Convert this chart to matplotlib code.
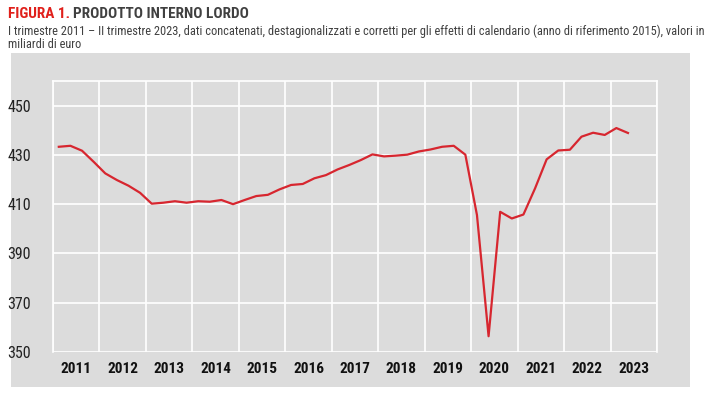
import matplotlib
matplotlib.use("Agg")
import matplotlib.pyplot as plt
from matplotlib.patches import Rectangle

plt.rcParams['font.family'] = ['Liberation Sans Narrow', 'Roboto Condensed', 'Archivo Narrow', 'DejaVu Sans']

# PIL trimestrale, miliardi di euro
years = list(range(2011, 2024))
gdp = [433.3, 433.7, 431.7, 427.2,
       422.5, 419.8, 417.5, 414.6,
       410.2, 410.6, 411.2, 410.6,
       411.2, 411.0, 411.7, 410.0,
       411.7, 413.3, 413.8, 416.0,
       417.8, 418.2, 420.5, 421.8,
       424.1, 425.9, 427.9, 430.2,
       429.4, 429.7, 430.1, 431.4,
       432.2, 433.3, 433.7, 430.1,
       405.6, 356.4, 406.9, 404.2,
       405.8, 416.4, 428.2, 431.8,
       432.1, 437.4, 439.0, 438.1,
       440.9, 438.9]
yticks = [350, 370, 390, 410, 430, 450]

# posizione di ogni trimestre: centro del quarto d'anno
xpos = [years[0] + (i + 0.5) / 4 for i in range(len(gdp))]

W, H = 709, 397
fig = plt.figure(figsize=(W / 100, H / 100), dpi=100)
fig.patch.set_facecolor('white')

# pannello grigio
fig.patches.append(Rectangle((11 / W, 1 - 387 / H), (690 - 11) / W, (387 - 53) / H,
                             transform=fig.transFigure, facecolor='#dcdcdc',
                             edgecolor='none', zorder=-1))

ax = fig.add_axes([53 / W, 1 - 352 / H, (657 - 53) / W, (352 - 81) / H])
ax.set_facecolor('#dcdcdc')
ax.plot(xpos, gdp, color='#d7262f', lw=1.6, solid_joinstyle='round', zorder=3)

ax.set_xlim(2011, 2024)
ax.set_ylim(350, 460)
ax.set_yticks(yticks)
ax.set_xticks(range(2011, 2025))
ax.set_xticks([y + 0.5 for y in years], minor=True)
ax.set_xticklabels([])
ax.set_xticklabels([str(y) for y in years], minor=True, fontsize=11,
                   fontweight='bold', color='#111111')
ax.tick_params(axis='x', which='both', length=0, pad=7)
ax.tick_params(axis='y', length=0, pad=16, labelsize=11.5, labelcolor='#222222')
ax.grid(True, which='major', color='white', lw=1.2)
for s in ['top', 'left', 'right']:
    ax.spines[s].set_color('white')
    ax.spines[s].set_linewidth(1.2)
ax.spines['bottom'].set_visible(False)

# titolo e sottotitolo
t1 = fig.text(8 / W, 1 - 14 / H, 'FIGURA 1.', color='#e0201b', fontsize=11,
              fontweight='bold', va='center', ha='left')
fig.canvas.draw()
bb = t1.get_window_extent()
fig.text((bb.x1 + 3) / W, 1 - 14 / H, 'PRODOTTO INTERNO LORDO', color='#404040',
         fontsize=11, fontweight='bold', va='center', ha='left')
sub = fig.text(8 / W, 1 - 31 / H,
               'I trimestre 2011 \u2013 II trimestre 2023, dati concatenati, destagionalizzati e corretti '
               'per gli effetti di calendario (anno di riferimento 2015), valori in',
               color='#404040', fontsize=10, va='center', ha='left')
# adatta la dimensione perche' la riga finisca a ~697 px come nel riferimento
fig.canvas.draw()
w = sub.get_window_extent().width
fs = min(10.5, 10 * 689 / w)
sub.set_fontsize(fs)
fig.text(8 / W, 1 - 45 / H, 'miliardi di euro', color='#404040', fontsize=fs,
         va='center', ha='left')

fig.savefig('out.png', dpi=100)
